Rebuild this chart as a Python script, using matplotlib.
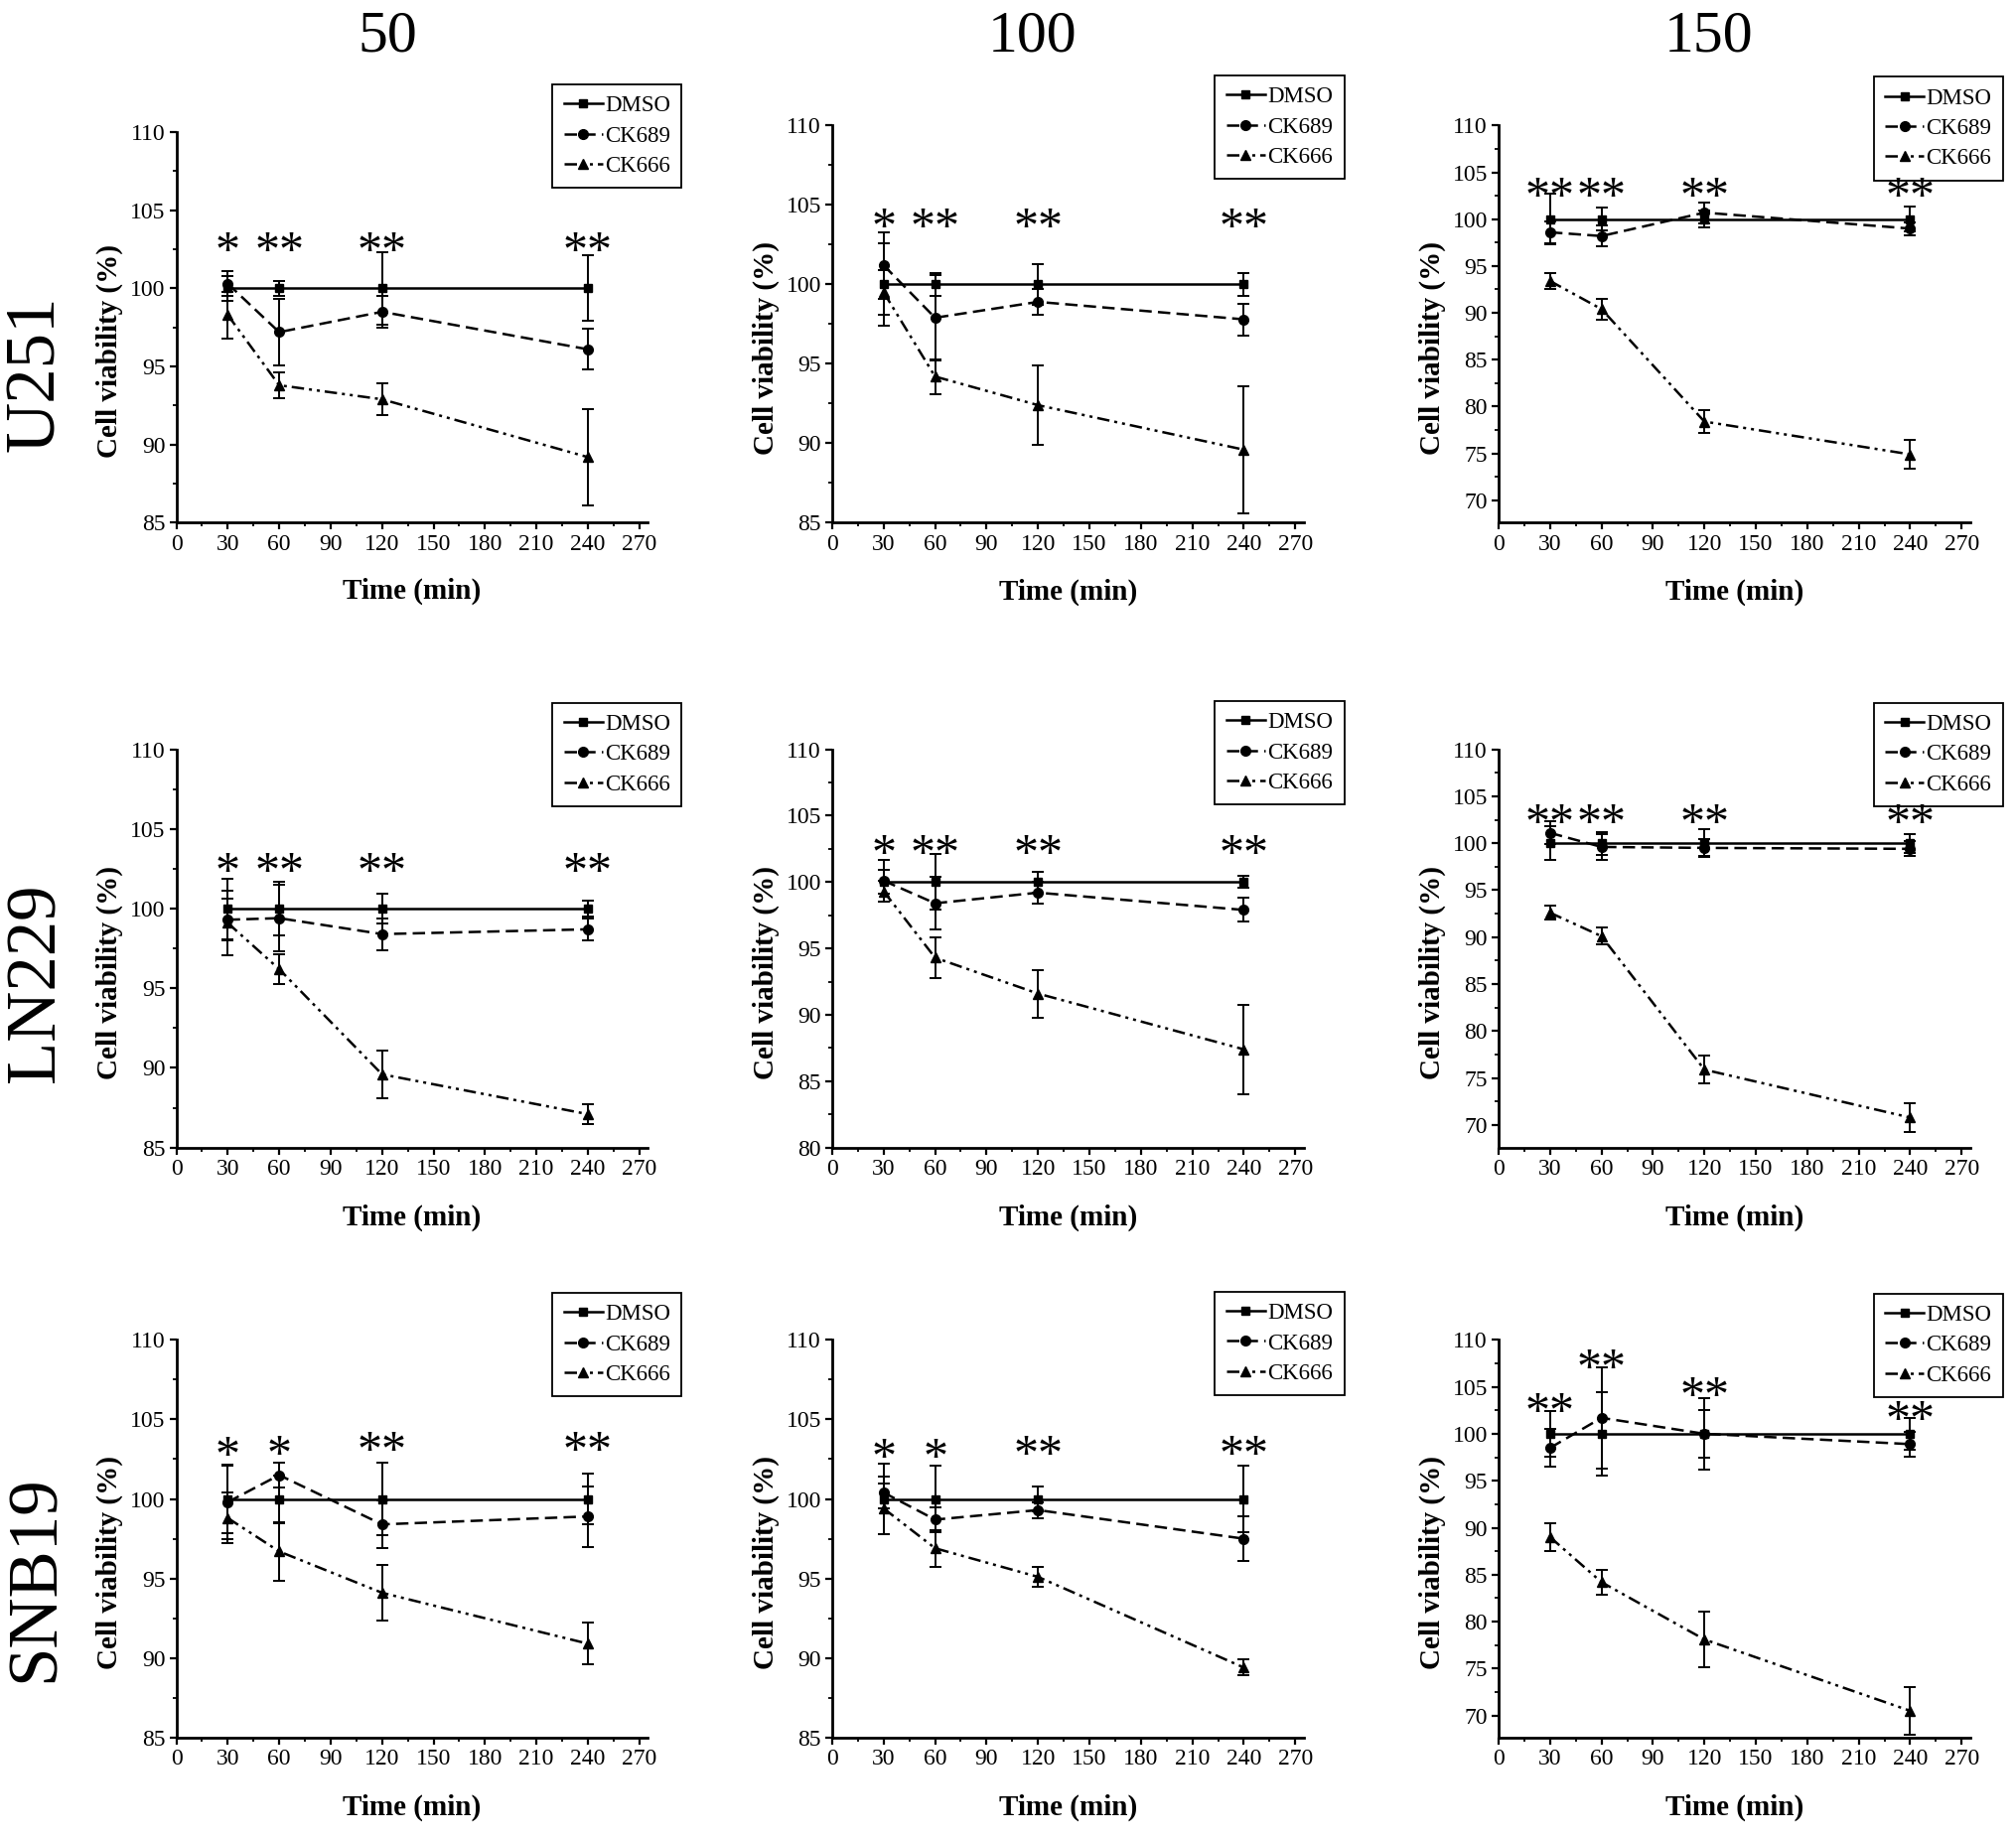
import matplotlib
matplotlib.use("Agg")
import matplotlib.pyplot as plt
from matplotlib.ticker import MultipleLocator

plt.rcParams['font.family'] = ['Liberation Serif', 'DejaVu Serif']

# --- data ---------------------------------------------------------------
times = [30, 60, 120, 240]
doses = ['50', '100', '150']
cell_lines = ['U251', 'LN229', 'SNB19']
series = ['DMSO', 'CK689', 'CK666']

# each list: one row per dose (50, 100, 150), one value per time point
U251_DMSO = [[100, 100, 100, 100], [100, 100, 100, 100], [100, 100, 100, 100]]
U251_DMSO_ERR = [[0.8, 0.5, 2.3, 2.1], [2.6, 0.7, 1.3, 0.7], [2.7, 1.2, 0.9, 1.3]]
U251_CK689 = [[100.3, 97.2, 98.5, 96.1], [101.2, 97.9, 98.9, 97.8], [98.6, 98.2, 100.7, 99.0]]
U251_CK689_ERR = [[0.8, 2.1, 1.0, 1.3], [2.1, 2.7, 0.8, 1.0], [1.2, 1.1, 1.1, 0.7]]
U251_CK666 = [[98.3, 93.8, 92.9, 89.2], [99.5, 94.2, 92.4, 89.6], [93.4, 90.4, 78.4, 74.9]]
U251_CK666_ERR = [[1.5, 0.85, 1.0, 3.1], [1.4, 1.1, 2.5, 4.0], [0.9, 1.1, 1.2, 1.55]]

LN229_DMSO = [[100, 100, 100, 100], [100, 100, 100, 100], [100, 100, 100, 100]]
LN229_DMSO_ERR = [[1.9, 1.7, 0.95, 0.5], [0.9, 2.1, 0.8, 0.45], [1.8, 1.2, 1.5, 1.0]]
LN229_CK689 = [[99.3, 99.4, 98.4, 98.7], [100.1, 98.4, 99.2, 97.9], [101.1, 99.6, 99.5, 99.4]]
LN229_CK689_ERR = [[1.3, 2.1, 1.0, 0.7], [1.6, 2.0, 0.8, 0.9], [1.2, 1.4, 0.9, 0.8]]
LN229_CK666 = [[99.1, 96.2, 89.6, 87.1], [99.3, 94.3, 91.6, 87.4], [92.6, 90.1, 75.9, 70.8]]
LN229_CK666_ERR = [[2.0, 0.95, 1.5, 0.6], [0.8, 1.55, 1.8, 3.35], [0.75, 0.9, 1.5, 1.5]]

SNB19_DMSO = [[100, 100, 100, 100], [100, 100, 100, 100], [100, 100, 100, 100]]
SNB19_DMSO_ERR = [[2.15, 1.5, 2.3, 1.6], [2.2, 2.1, 0.8, 2.1], [2.4, 4.4, 2.5, 1.7]]
SNB19_CK689 = [[99.8, 101.5, 98.4, 98.9], [100.4, 98.7, 99.3, 97.5], [98.5, 101.7, 100.0, 98.9]]
SNB19_CK689_ERR = [[2.3, 0.75, 1.5, 1.9], [1.0, 0.8, 0.5, 1.4], [2.0, 5.4, 3.8, 1.3]]
SNB19_CK666 = [[98.8, 96.7, 94.1, 90.9], [99.4, 96.9, 95.1, 89.4], [89.0, 84.2, 78.1, 70.5]]
SNB19_CK666_ERR = [[1.6, 1.85, 1.75, 1.3], [1.6, 1.15, 0.6, 0.5], [1.5, 1.3, 3.0, 2.5]]

# significance marks and the height (data units) they sit at
U251_STARS = [['*', '**', '**', '**'], ['*', '**', '**', '**'], ['**', '**', '**', '**']]
U251_STAR_Y = [[103.0] * 4, [104.2] * 4, [103.4] * 4]
LN229_STARS = [['*', '**', '**', '**'], ['*', '**', '**', '**'], ['**', '**', '**', '**']]
LN229_STAR_Y = [[102.9] * 4, [102.8] * 4, [103.1] * 4]
SNB19_STARS = [['*', '*', '**', '**'], ['*', '*', '**', '**'], ['**', '**', '**', '**']]
SNB19_STAR_Y = [[103.3, 103.4, 103.65, 103.65], [103.2, 103.2, 103.35, 103.4],
                [103.3, 108.0, 105.0, 102.5]]

# y-axis lower limits per row/column
YMIN = [[85, 85, 67.6], [85, 80, 67.6], [85, 85, 67.6]]

means = {'U251': [U251_DMSO, U251_CK689, U251_CK666],
         'LN229': [LN229_DMSO, LN229_CK689, LN229_CK666],
         'SNB19': [SNB19_DMSO, SNB19_CK689, SNB19_CK666]}
errs = {'U251': [U251_DMSO_ERR, U251_CK689_ERR, U251_CK666_ERR],
        'LN229': [LN229_DMSO_ERR, LN229_CK689_ERR, LN229_CK666_ERR],
        'SNB19': [SNB19_DMSO_ERR, SNB19_CK689_ERR, SNB19_CK666_ERR]}
stars = {'U251': (U251_STARS, U251_STAR_Y),
         'LN229': (LN229_STARS, LN229_STAR_Y),
         'SNB19': (SNB19_STARS, SNB19_STAR_Y)}

# --- layout -------------------------------------------------------------
fig = plt.figure(figsize=(20.31, 18.53), dpi=100)

col_left = [0.0874, 0.4126, 0.743]
ax_w = 0.2338
row_rects = [  # (bottom, top) per column
    [(0.7159, 0.9282), (0.7159, 0.9318), (0.7159, 0.9318)],
    [(0.3763, 0.5928), (0.3763, 0.5928), (0.3763, 0.5928)],
    [(0.0557, 0.2718), (0.0557, 0.2718), (0.0554, 0.2718)],
]
leg_right = [0.338, 0.6665, 0.993]
leg_top = [[0.9542, 0.959, 0.9583], [0.6181, 0.619, 0.6181], [0.2974, 0.298, 0.297]]
row_label_y = [0.797, 0.466, 0.142]
col_title_x = [0.192, 0.512, 0.847]

styles = [
    dict(linestyle='-', marker='s', markersize=5.5),
    dict(linestyle=(0, (5, 2.5)), marker='o', markersize=7),
    dict(linestyle=(0, (5, 2, 1.2, 2, 1.2, 2)), marker='^', markersize=7.5),
]

for r, line in enumerate(cell_lines):
    for c, dose in enumerate(doses):
        b, t = row_rects[r][c]
        ax = fig.add_axes([col_left[c], b, ax_w, t - b])

        for k, name in enumerate(series):
            ax.errorbar(times, means[line][k][c], yerr=errs[line][k][c], fmt='none',
                        ecolor='black', elinewidth=1.4, capsize=4, capthick=1.4, zorder=2)
        for k, name in enumerate(series):
            ax.plot(times, means[line][k][c], color='black', linewidth=1.8,
                    markerfacecolor='black', markeredgecolor='black',
                    label=name, zorder=3, **styles[k])

        labels, ys = stars[line]
        for x, s, y in zip(times, labels[c], ys[c]):
            ax.annotate(s, (x, y), xytext=(0, -17), textcoords='offset points',
                        ha='center', va='baseline', fontsize=36, zorder=6)

        ax.set_xlim(0, 275)
        ax.set_ylim(YMIN[r][c], 110)
        ax.set_xticks(range(0, 271, 30))
        ax.xaxis.set_minor_locator(MultipleLocator(15))
        ax.yaxis.set_minor_locator(MultipleLocator(2.5))
        ax.set_yticks([v for v in range(70, 111, 5) if v >= YMIN[r][c]])

        for sp in ['top', 'right']:
            ax.spines[sp].set_visible(False)
        for sp in ['left', 'bottom']:
            ax.spines[sp].set_linewidth(2.0)
        ax.tick_params(which='major', direction='out', length=5, width=1.6,
                       labelsize=17, pad=3)
        ax.tick_params(which='minor', direction='out', length=3, width=1.3)

        ax.set_xlabel('Time (min)', fontsize=21, fontweight='bold')
        ax.set_ylabel('Cell viability (%)', fontsize=21, fontweight='bold')
        ax.xaxis.set_label_coords(0.5, -0.175)
        ax.xaxis.label.set_va('center')
        ax.yaxis.set_label_coords(-0.141, 0.44)
        ax.yaxis.label.set_va('center')

        leg = ax.legend(loc='upper right', bbox_to_anchor=(leg_right[c], leg_top[r][c]),
                        bbox_transform=fig.transFigure, borderaxespad=0,
                        fontsize=16.5, handlelength=1.7, handletextpad=0.1,
                        labelspacing=0.4, borderpad=0.5, fancybox=False,
                        framealpha=1, edgecolor='black', numpoints=1)
        leg.get_frame().set_linewidth(1.3)
        leg.set_zorder(5)

for c, dose in enumerate(doses):
    fig.text(col_title_x[c], 0.980, dose, ha='center', va='center', fontsize=43)
for r, line in enumerate(cell_lines):
    fig.text(0.018, row_label_y[r], line, rotation=90, ha='center', va='center', fontsize=51)

fig.savefig('out.png', dpi=100)
